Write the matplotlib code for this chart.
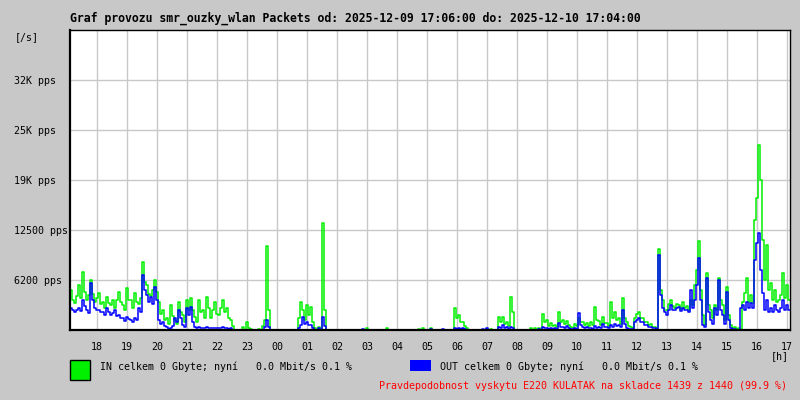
import numpy as np  # numeric arrays
import matplotlib
matplotlib.use('Agg')
import matplotlib.pyplot as plt  # plotting
from matplotlib.patches import Rectangle  # legend boxes

# Data: packets per second in 4 minute steps from 17:06.
in_pps = [
    5000, 3750, 3400, 4250, 5600, 4000, 7250, 4750, 3750, 4400,
    6250, 4500, 3500, 4000, 4600, 3250, 3500, 2750, 4100, 3400,
    3100, 3750, 2750, 3750, 4750, 3500, 3100, 2500, 5250, 3750,
    3750, 2750, 4600, 3500, 3250, 4000, 8500, 6000, 5600, 4500,
    4250, 5000, 6250, 4750, 3500, 2000, 2500, 1250, 1500, 750,
    3100, 1750, 1250, 750, 3500, 2250, 1900, 1000, 3750, 2500,
    4000, 2500, 1600, 1000, 3750, 2250, 2500, 1500, 4100, 2750,
    1500, 2500, 3500, 2000, 1900, 2750, 3750, 2250, 2750, 1500,
    1250, 500, 0, 0, 0, 0, 400, 0, 1000, 250,
    150, 0, 0, 0, 150, 0, 500, 1250, 10500, 2500,
    0, 0, 0, 0, 0, 0, 0, 0, 0, 0,
    0, 0, 0, 0, 1500, 3500, 2500, 1250, 3100, 1900,
    2900, 1000, 250, 0, 400, 0, 13400, 2500, 0, 0,
    0, 0, 0, 0, 0, 0, 0, 0, 0, 0,
    0, 0, 0, 0, 0, 0, 0, 0, 250, 0,
    0, 0, 0, 0, 0, 0, 0, 0, 250, 0,
    0, 0, 0, 0, 0, 0, 0, 0, 0, 0,
    0, 0, 0, 0, 150, 0, 250, 0, 0, 0,
    250, 0, 0, 0, 0, 0, 0, 0, 0, 0,
    0, 0, 2750, 1500, 1900, 1000, 1000, 500, 250, 0,
    0, 0, 0, 0, 0, 0, 0, 0, 150, 0,
    150, 0, 0, 0, 1600, 1000, 1600, 750, 1000, 500,
    4100, 2250, 0, 0, 0, 0, 0, 0, 0, 0,
    250, 0, 250, 0, 250, 0, 2000, 1000, 1250, 500,
    900, 500, 600, 400, 2250, 1000, 1250, 750, 1100, 600,
    400, 250, 750, 500, 1500, 1000, 1000, 600, 900, 500,
    1000, 600, 2900, 1250, 1100, 600, 1600, 900, 900, 500,
    3500, 1500, 2250, 1250, 1500, 750, 4000, 1500, 1000, 500,
    400, 250, 1500, 2000, 2250, 1500, 1500, 1000, 1000, 600,
    750, 400, 400, 250, 10100, 5000, 3750, 2500, 2500, 3250,
    3750, 3000, 2750, 3250, 3100, 2600, 3500, 2750, 3000, 2500,
    3750, 3100, 5600, 7500, 11100, 5000, 1900, 600, 7100, 3100,
    2500, 1500, 3100, 2500, 6500, 3750, 3100, 1250, 5400, 1900,
    600, 250, 400, 150, 250, 0, 3500, 4600, 6500, 3500,
    4400, 3400, 13750, 16500, 23100, 18750, 11250, 6250, 10600, 5000,
    5900, 3750, 5000, 3500, 3750, 4400, 7100, 4000, 5600, 3750,
]
out_pps = [
    2750, 2500, 2250, 2500, 2750, 2400, 3750, 3000, 2500, 2100,
    5900, 3750, 2750, 2500, 2500, 2250, 2250, 1900, 2750, 2250,
    1900, 2100, 2500, 1750, 1900, 1500, 1500, 1100, 1600, 1400,
    1250, 1000, 1500, 1250, 2750, 2250, 6900, 5000, 4400, 3500,
    4100, 3250, 5400, 3750, 1250, 750, 1000, 500, 400, 150,
    250, 500, 1500, 1000, 2500, 1500, 600, 400, 2750, 1900,
    2900, 1000, 400, 250, 400, 250, 250, 250, 400, 250,
    250, 250, 250, 250, 250, 250, 400, 250, 250, 150,
    250, 0, 0, 0, 0, 0, 0, 0, 0, 0,
    0, 0, 0, 0, 0, 0, 0, 400, 1250, 400,
    0, 0, 0, 0, 0, 0, 0, 0, 0, 0,
    0, 0, 0, 0, 250, 600, 1600, 750, 1000, 600,
    600, 250, 0, 0, 250, 0, 1600, 500, 0, 0,
    0, 0, 0, 0, 0, 0, 0, 0, 0, 0,
    0, 0, 0, 0, 0, 0, 150, 0, 0, 0,
    0, 0, 0, 0, 0, 0, 0, 0, 0, 0,
    0, 0, 0, 0, 0, 0, 0, 0, 0, 0,
    0, 0, 0, 0, 0, 0, 0, 0, 0, 0,
    150, 0, 0, 0, 0, 0, 150, 0, 0, 0,
    0, 0, 250, 150, 250, 150, 250, 150, 0, 0,
    0, 0, 0, 0, 0, 0, 150, 0, 250, 0,
    0, 0, 0, 0, 400, 250, 600, 250, 400, 150,
    400, 250, 0, 0, 0, 0, 0, 0, 0, 0,
    0, 0, 0, 0, 150, 0, 400, 250, 250, 150,
    250, 150, 250, 150, 900, 400, 400, 250, 500, 250,
    150, 150, 250, 150, 2100, 600, 400, 250, 400, 250,
    250, 150, 500, 250, 400, 250, 750, 400, 400, 250,
    600, 400, 750, 500, 600, 400, 2500, 750, 250, 150,
    150, 150, 1000, 1250, 1500, 1000, 1000, 600, 600, 400,
    400, 250, 250, 150, 9400, 4400, 2750, 2250, 1900, 2500,
    3100, 2500, 2500, 2750, 2900, 2400, 2750, 2500, 2500, 2250,
    5000, 2750, 3750, 5600, 9000, 3750, 600, 400, 6500, 2250,
    1250, 750, 2750, 1900, 6250, 2500, 1900, 750, 4750, 1250,
    250, 150, 150, 0, 0, 2750, 3100, 2500, 3500, 2750,
    3400, 2750, 8750, 10900, 12100, 7500, 4600, 2500, 3750, 2250,
    2750, 2250, 3100, 2500, 2250, 2750, 3750, 2500, 3100, 2500,
]
hours = ['18', '19', '20', '21', '22', '23', '00', '01', '02', '03', '04', '05',
         '06', '07', '08', '09', '10', '11', '12', '13', '14', '15', '16', '17']
y_ticks = [6250, 12500, 18750, 25000, 31250]
y_labels = ['6200 pps', '12500 pps', '19K pps', '25K pps', '32K pps']

bg = '#c8c8c8'  # grey background
mono = 'DejaVu Sans Mono'

fig = plt.figure(figsize=(8, 4), dpi=100, facecolor=bg)
ax = fig.add_axes([70 / 800, 70 / 400, 720 / 800, 300 / 400])
ax.set_facecolor('white')

# Step lines, minutes since 17:06
t = np.arange(len(in_pps) + 1) * 4
ax.plot(t, in_pps + in_pps[-1:], drawstyle='steps-post', color='#00f000', lw=1.1)
ax.plot(t, out_pps + out_pps[-1:], drawstyle='steps-post', color='#0000ff', lw=1.1)

ax.set_xlim(0, 1440)
ax.set_ylim(0, 37500)

# Hour grid, 18:00 is 54 minutes after start
ax.set_xticks(54 + 60 * np.arange(len(hours)))
ax.set_xticklabels(hours, fontfamily=mono, fontsize=7.2)
ax.set_yticks(y_ticks)
ax.set_yticklabels(y_labels, fontfamily=mono, fontsize=7.2, ha='left')
ax.tick_params(axis='x', length=0, pad=9)
ax.tick_params(axis='y', length=0, pad=40)
ax.grid(True, color='#c8c8c8', lw=1.0)
ax.set_axisbelow(True)

for side in ['top', 'right']:
    ax.spines[side].set_linewidth(1.0)
for side in ['left', 'bottom']:
    ax.spines[side].set_linewidth(1.6)

# Texts around the graph
fig.text(70 / 800, 1 - 18 / 400, 'Graf provozu smr_ouzky_wlan Packets od: 2025-12-09 17:06:00 do: 2025-12-10 17:04:00',
         fontfamily=mono, fontsize=8.3, fontweight='bold', va='center', ha='left')
fig.text(15 / 800, 1 - 37 / 400, '[/s]', fontfamily=mono, fontsize=7.2, va='center')
fig.text(780 / 800, 1 - 356 / 400, '[h]', fontfamily=mono, fontsize=7.2, va='center', ha='center')

# Legend
fig.patches.append(Rectangle((70 / 800, 20 / 400), 20 / 800, 20 / 400, transform=fig.transFigure,
                             facecolor='#00f000', edgecolor='black', lw=1.0))
fig.patches.append(Rectangle((410 / 800, 29 / 400), 21 / 800, 11 / 400, transform=fig.transFigure,
                             facecolor='#0000ff', edgecolor='none'))
fig.text(100 / 800, 1 - 367 / 400, 'IN celkem 0 Gbyte; nyní   0.0 Mbit/s 0.1 %',
         fontfamily=mono, fontsize=7.2, va='center')
fig.text(440 / 800, 1 - 367 / 400, 'OUT celkem 0 Gbyte; nyní   0.0 Mbit/s 0.1 %',
         fontfamily=mono, fontsize=7.2, va='center')
fig.text(787 / 800, 1 - 386 / 400, 'Pravdepodobnost vyskytu E220 KULATAK na skladce 1439 z 1440 (99.9 %)',
         fontfamily=mono, fontsize=7.2, va='center', ha='right', color='red')

fig.savefig('out.png', dpi=100, facecolor=bg)
